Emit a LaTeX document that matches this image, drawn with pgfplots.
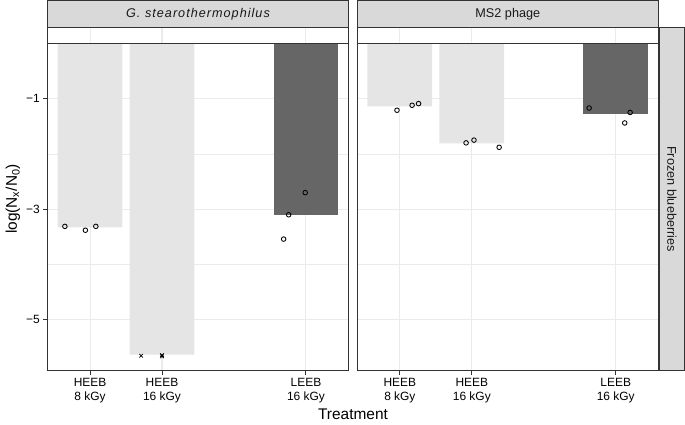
\documentclass[border=0pt]{standalone}
\usepackage{pgfplots}
\pgfplotsset{compat=1.18}
\usepackage{fontspec}
\setmainfont{Liberation Sans}
\newfontfamily\stripfont[LetterSpace=8]{Liberation Sans}
\definecolor{bord}{HTML}{333333}
\definecolor{stripbg}{HTML}{D9D9D9}
\definecolor{gridc}{HTML}{EBEBEB}
\definecolor{lightbar}{HTML}{E5E5E5}
\definecolor{darkbar}{HTML}{666666}
\pgfplotsset{
  panel/.style={
    scale only axis, width=300.8bp, height=343.4bp,
    xmin=0.41, xmax=4.59, ymin=-5.92, ymax=0.29,
    xtick={1,2,4}, ytick={-5,-3,-1}, minor ytick={-4,-2},
    xticklabels={{HEEB\\8 kGy},{HEEB\\16 kGy},{LEEB\\16 kGy}},
    xticklabel style={align=center, font=\fontsize{12}{14}\selectfont},
    yticklabel style={font=\fontsize{12}{14}\selectfont},
    grid=both,
    major grid style={gridc, line width=1.1bp},
    minor grid style={gridc, line width=0.55bp},
    minor tick length=0pt,
    tick align=outside, major tick length=4.4bp,
    tick style={bord, line width=1bp},
    xtick pos=bottom, ytick pos=left,
    axis line style={bord, line width=1bp},
    anchor=south west,
  },
  barp/.style={ybar, bar width=0.9, bar shift=0pt, draw=none, forget plot},
  circ/.style={only marks, mark=o, mark size=2.3bp, mark options={black, line width=0.85bp}, forget plot},
  crs/.style={only marks, mark=x, mark size=2.5bp, mark options={black, line width=0.8bp}, forget plot},
}
\begin{document}
\begin{tikzpicture}
\path[use as bounding box] (0,0) rectangle (685bp,425bp);
% left panel
\begin{axis}[panel, at={(47.6bp,54.3bp)}, yticklabels={−5,−3,−1}]
\addplot[barp, fill=lightbar] coordinates {(1,-3.33) (2,-5.63)};
\addplot[barp, fill=darkbar] coordinates {(4,-3.11)};
\addplot[circ] coordinates {(0.65,-3.31) (0.935,-3.38) (1.08,-3.31) (3.99,-2.70) (3.76,-3.10) (3.69,-3.54)};
\addplot[crs] coordinates {(1.71,-5.65) (2.0,-5.64) (2.0,-5.66)};
\draw[bord, line width=1bp] (axis cs:0.41,0) -- (axis cs:4.59,0);
\end{axis}
% right panel
\begin{axis}[panel, at={(357.4bp,54.3bp)}, yticklabels={}, ytick style={draw=none}]
\addplot[barp, fill=lightbar] coordinates {(1,-1.14) (2,-1.81)};
\addplot[barp, fill=darkbar] coordinates {(4,-1.28)};
\addplot[circ] coordinates {(0.96,-1.21) (1.17,-1.12) (1.26,-1.09) (1.92,-1.80) (2.03,-1.75) (2.38,-1.88) (3.63,-1.17) (4.20,-1.25) (4.125,-1.44)};
\draw[bord, line width=1bp] (axis cs:0.41,0) -- (axis cs:4.59,0);
\end{axis}
% strips
\draw[bord, fill=stripbg, line width=1bp] (47.6bp,397.7bp) rectangle (348.4bp,424.5bp);
\draw[bord, fill=stripbg, line width=1bp] (357.4bp,397.7bp) rectangle (658.2bp,424.5bp);
\draw[bord, fill=stripbg, line width=1bp] (659.6bp,54.3bp) rectangle (684.5bp,397.7bp);
\node[text=black!90, font=\stripfont\itshape\fontsize{12.7}{14}\selectfont] at (198bp,411.2bp) {G. stearothermophilus};
\node[text=black!90, font=\fontsize{12.7}{14}\selectfont] at (507.8bp,411.2bp) {MS2 phage};
\node[text=black!90, font=\fontsize{12.7}{14}\selectfont, rotate=-90] at (672bp,226bp) {Frozen blueberries};
% axis titles
\node[font=\fontsize{15.5}{18}\selectfont, anchor=base] at (353bp,5.5bp) {Treatment};
\node[font=\fontsize{15.5}{18}\selectfont, rotate=90] at (13bp,226bp) {log(N\textsubscript{x}/N\textsubscript{0})};
\end{tikzpicture}
\end{document}
